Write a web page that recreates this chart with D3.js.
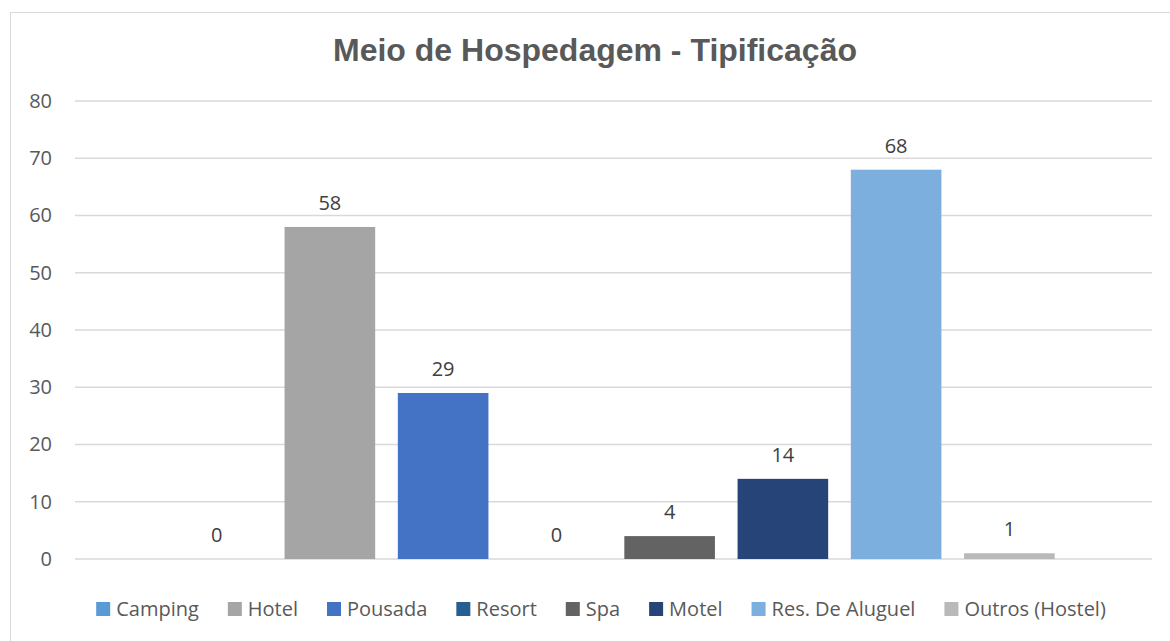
<!DOCTYPE html>
<html lang="en"><head>
<meta charset="utf-8">
<title>Meio de Hospedagem - Tipificação</title>
<script src="https://cdnjs.cloudflare.com/ajax/libs/d3/7.8.5/d3.min.js"></script>
<style>
  body { margin: 0; background: #fff; }
  text { font-family: "Open Sans", "Noto Sans", sans-serif; }
</style>
</head>
<body>
<svg id="chart" width="1170" height="641"></svg>
<script>
// series (one per legend entry)
const series = ["Camping", "Hotel", "Pousada", "Resort", "Spa", "Motel", "Res. De Aluguel", "Outros (Hostel)"]
const values = [0, 58, 29, 0, 4, 14, 68, 1]
const colors = ["#5b9bd5", "#a5a5a5", "#4472c4", "#255e91", "#636363", "#264478", "#7cafdd", "#b9b9b9"]
const yTicks = [0, 10, 20, 30, 40, 50, 60, 70, 80]

const svg = d3.select("#chart")

// outer chart border
svg.append("rect")
  .attr("x", 10.5).attr("y", 12.5)
  .attr("width", 1170).attr("height", 640)
  .attr("fill", "none").attr("stroke", "#d9d9d9").attr("stroke-width", 1)

svg.append("text")
  .attr("x", 595).attr("y", 61)
  .attr("text-anchor", "middle")
  .style("font-family", "'Liberation Sans', Arial, sans-serif")
  .style("font-weight", "bold").style("font-size", "32px")
  .attr("fill", "#595959")
  .text("Meio de Hospedagem - Tipificação")

const x = d3.scaleBand().domain(series).range([160, 1066])
  .paddingInner(0.2).paddingOuter(0.1)
const y = d3.scaleLinear().domain([0, 80]).range([559, 101])

// gridlines
svg.append("g").selectAll("line").data(yTicks).enter()
  .append("line")
  .attr("x1", 75).attr("x2", 1152)
  .attr("y1", d => y(d)).attr("y2", d => y(d))
  .attr("stroke", "#d9d9d9").attr("stroke-width", 1.5)

// y axis labels
const yAxis = svg.append("g").attr("transform", "translate(52,0)")
  .call(d3.axisLeft(y).tickValues(yTicks).tickSize(0).tickPadding(0))
yAxis.select(".domain").remove()
yAxis.selectAll("text")
  .style("font-size", "20px").attr("fill", "#595959")
  .style("font-family", "'Open Sans', sans-serif")

// bars
svg.append("g").selectAll("rect").data(series).enter()
  .append("rect")
  .attr("x", d => x(d))
  .attr("width", x.bandwidth())
  .attr("y", (d, i) => y(values[i]))
  .attr("height", (d, i) => y(0) - y(values[i]))
  .attr("fill", (d, i) => colors[i])

// data labels
svg.append("g").selectAll("text").data(series).enter()
  .append("text")
  .attr("x", d => x(d) + x.bandwidth() / 2)
  .attr("y", (d, i) => y(values[i]) - 17)
  .attr("text-anchor", "middle")
  .style("font-size", "20px").attr("fill", "#404040")
  .text((d, i) => values[i])

// legend, laid out from measured text widths and centred
const legend = svg.append("g")
const items = legend.selectAll("g").data(series).enter().append("g")
items.append("rect")
  .attr("width", 14).attr("height", 14).attr("y", -7)
  .attr("fill", (d, i) => colors[i])
items.append("text")
  .attr("x", 20).attr("dy", "0.35em")
  .style("font-size", "20px").attr("fill", "#595959")
  .text(d => d)
let cx = 0
items.each(function () {
  const w = d3.select(this).select("text").node().getComputedTextLength()
  d3.select(this).attr("transform", `translate(${cx},0)`)
  cx += 20 + w + 29
})
const total = cx - 29
legend.attr("transform", `translate(${601 - total / 2},609)`)
</script>
</body>
</html>
